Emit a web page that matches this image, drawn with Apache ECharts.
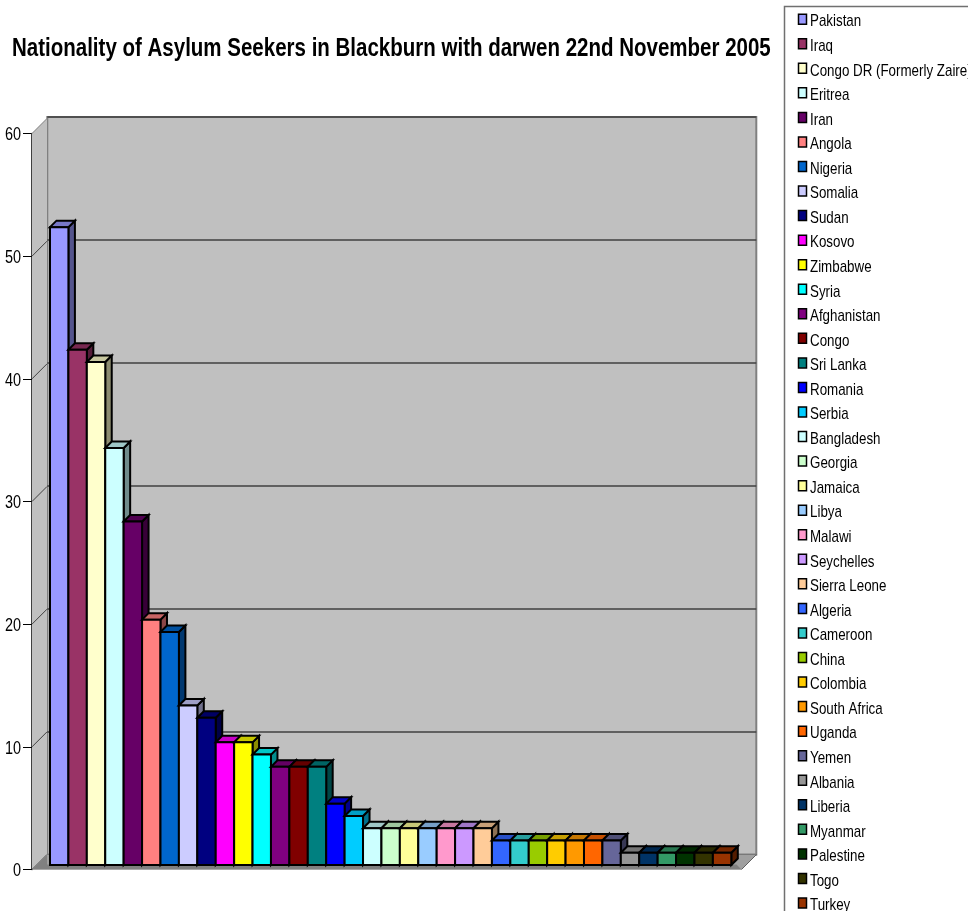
<!DOCTYPE html>
<html>
<head>
<meta charset="utf-8">
<style>html,body{margin:0;padding:0;background:#fff}#chart{width:968px;height:911px}</style>
<script src="https://cdn.jsdelivr.net/npm/echarts@6/dist/echarts.min.js"></script>
</head>
<body>
<div id="chart"></div>
<script>
const titleText = 'Nationality of Asylum Seekers in Blackburn with darwen 22nd November 2005';
const countries = ['Pakistan','Iraq','Congo DR (Formerly Zaire)','Eritrea','Iran','Angola','Nigeria','Somalia','Sudan','Kosovo','Zimbabwe','Syria','Afghanistan','Congo','Sri Lanka','Romania','Serbia','Bangladesh','Georgia','Jamaica','Libya','Malawi','Seychelles','Sierra Leone','Algeria','Cameroon','China','Colombia','South Africa','Uganda','Yemen','Albania','Liberia','Myanmar','Palestine','Togo','Turkey'];
const seekers = [52,42,41,34,28,20,19,13,12,10,10,9,8,8,8,5,4,3,3,3,3,3,3,3,2,2,2,2,2,2,2,1,1,1,1,1,1];
const colours = ['#9999FF','#993366','#FFFFCC','#CCFFFF','#660066','#FF8080','#0066CC','#CCCCFF','#000080','#FF00FF','#FFFF00','#00FFFF','#800080','#800000','#008080','#0000FF','#00CCFF','#CCFFFF','#CCFFCC','#FFFF99','#99CCFF','#FF99CC','#CC99FF','#FFCC99','#3366FF','#33CCCC','#99CC00','#FFCC00','#FF9900','#FF6600','#666699','#969696','#003366','#339966','#003300','#333300','#993300'];
const valueTicks = [0,10,20,30,40,50,60];

const SANS = '"Liberation Sans",Arial,sans-serif';
const BAR_DEPTH = 6.5;
const WALL_DEPTH = 15;
const NARROW_SCALE = 0.785;
const LEGEND_TOP = 19;
const LEGEND_STEP = 24.55;

function shade(hex, k) {
  const n = parseInt(hex.slice(1), 16);
  const c = [(n >> 16) & 255, (n >> 8) & 255, n & 255].map(v => Math.round(v * k));
  return `rgb(${c[0]},${c[1]},${c[2]})`;
}

// One extruded column: front face, right side and top.
function renderColumn(params, api) {
  const base = api.coord([api.value(0), 0]);
  const top = api.coord([api.value(0), api.value(1)]);
  const w = api.size([1, 0])[0];
  const l = base[0] - w / 2, r = base[0] + w / 2, y0 = base[1], y1 = top[1], d = BAR_DEPTH;
  const col = colours[api.value(0)];
  const line = { stroke: '#000', lineWidth: 2, lineJoin: 'miter' };
  return {
    type: 'group',
    children: [
      { type: 'polygon', shape: { points: [[r, y0], [r + d, y0 - d], [r + d, y1 - d], [r, y1]] }, style: { fill: shade(col, 0.55), ...line } },
      { type: 'polygon', shape: { points: [[l, y1], [l + d, y1 - d], [r + d, y1 - d], [r, y1]] }, style: { fill: shade(col, 0.78), ...line } },
      { type: 'rect', shape: { x: l, y: y1, width: r - l, height: y0 - y1 }, style: { fill: col, ...line } }
    ]
  };
}

// Left wall of the chart box, with slanted ticks and the narrowed value labels.
function renderSideWall(params, api) {
  const g = params.coordSys, d = WALL_DEPTH;
  const children = [{
    type: 'polygon',
    shape: { points: [[g.x, g.y], [g.x + d, g.y - d], [g.x + d, g.y + g.height - d], [g.x, g.y + g.height]] },
    style: { fill: '#c0c0c0', stroke: null }
  }];
  valueTicks.forEach(t => {
    const y = api.coord([0, t])[1];
    children.push({
      type: 'line',
      shape: { x1: g.x, y1: y, x2: g.x + d, y2: y - d },
      style: { stroke: t === 60 ? '#808080' : '#404040', lineWidth: 1 }
    });
    children.push({
      type: 'text', x: g.x - 11, y: y + 1.5, scaleX: 0.76,
      style: { text: String(t), font: `19px ${SANS}`, fill: '#000', textAlign: 'right', textVerticalAlign: 'middle' }
    });
  });
  return { type: 'group', children };
}

// Floor of the chart box and its front edge.
function renderFloor(params) {
  const g = params.coordSys, d = WALL_DEPTH, y = g.y + g.height, x = g.x, r = g.x + g.width;
  return {
    type: 'group',
    children: [
      { type: 'polygon', shape: { points: [[x, y], [x + d, y - d], [r + d, y - d], [r, y]] }, style: { fill: '#a0a0a0', stroke: null } },
      { type: 'polygon', shape: { points: [[x, y], [x + d, y - d], [x + d, y - 5], [r - 5, y - 5], [r, y]] }, style: { fill: '#808080', stroke: null } },
      { type: 'line', shape: { x1: r, y1: y, x2: r + d, y2: y - d }, style: { stroke: '#606060', lineWidth: 1 } }
    ]
  };
}

// Key box: one swatch and one narrowed label per country.
const keyItems = countries.flatMap((name, i) => {
  const cy = LEGEND_TOP + i * LEGEND_STEP;
  return [
    { type: 'rect', z: 5, silent: true, shape: { x: 798.5, y: cy - 4.8, width: 8, height: 10 },
      style: { fill: colours[i], stroke: '#000', lineWidth: 1.5 } },
    { type: 'text', z: 5, silent: true, x: 810, y: cy + 2.8, scaleX: NARROW_SCALE,
      style: { text: name, font: `17px ${SANS}`, fill: '#000', textVerticalAlign: 'middle' } }
  ];
});

const hiddenX = { show: false };
const chart = echarts.init(document.getElementById('chart'));
chart.setOption({
  animation: false,
  backgroundColor: '#fff',
  graphic: [
    { type: 'text', silent: true, x: 12, y: 49.5, scaleX: 0.82,
      style: { text: titleText, font: `bold 25px ${SANS}`, fill: '#000', textVerticalAlign: 'middle' } },
    { type: 'rect', z: 1, silent: true, shape: { x: 784.5, y: 6.5, width: 400, height: 1200 },
      style: { fill: '#fff', stroke: '#707070', lineWidth: 1.5 } },
    ...keyItems
  ],
  grid: [
    { left: 47.3, top: 117, width: 709, height: 737.5, show: true, backgroundColor: '#c0c0c0', borderColor: '#808080', borderWidth: 2 },
    { left: 32, top: 133.5, width: 709.5, height: 736 },
    { left: 50, top: 129, width: 681.3, height: 736 }
  ],
  xAxis: [
    { gridIndex: 0, type: 'value', ...hiddenX },
    { gridIndex: 1, type: 'value', min: 0, max: 1, ...hiddenX },
    { gridIndex: 2, type: 'category', data: countries, ...hiddenX }
  ],
  yAxis: [
    { gridIndex: 0, type: 'value', min: 0, max: 60, interval: 10,
      axisLine: { show: false }, axisTick: { show: false }, axisLabel: { show: false },
      splitLine: { lineStyle: { color: '#404040', width: 1.5 } } },
    { gridIndex: 1, type: 'value', min: 0, max: 60, interval: 10,
      axisLine: { show: true, lineStyle: { color: '#000', width: 1.5 } },
      axisTick: { show: true, length: 9, lineStyle: { color: '#000', width: 1 } },
      axisLabel: { show: false },
      splitLine: { show: false } },
    { gridIndex: 2, type: 'value', min: 0, max: 60, interval: 10, show: false, splitLine: { show: false } }
  ],
  series: [
    { type: 'custom', xAxisIndex: 1, yAxisIndex: 1, z: 1, silent: true, renderItem: renderSideWall, data: [[0, 0]] },
    { type: 'custom', xAxisIndex: 1, yAxisIndex: 1, z: 1, silent: true, renderItem: renderFloor, data: [[0, 0]] },
    ...countries.map((name, i) => ({
      type: 'custom', name, xAxisIndex: 2, yAxisIndex: 2, z: 3 + i * 0.01,
      itemStyle: { color: colours[i] },
      encode: { x: 0, y: 1 },
      renderItem: renderColumn,
      data: [[i, seekers[i]]]
    }))
  ]
});
</script>
</body>
</html>
